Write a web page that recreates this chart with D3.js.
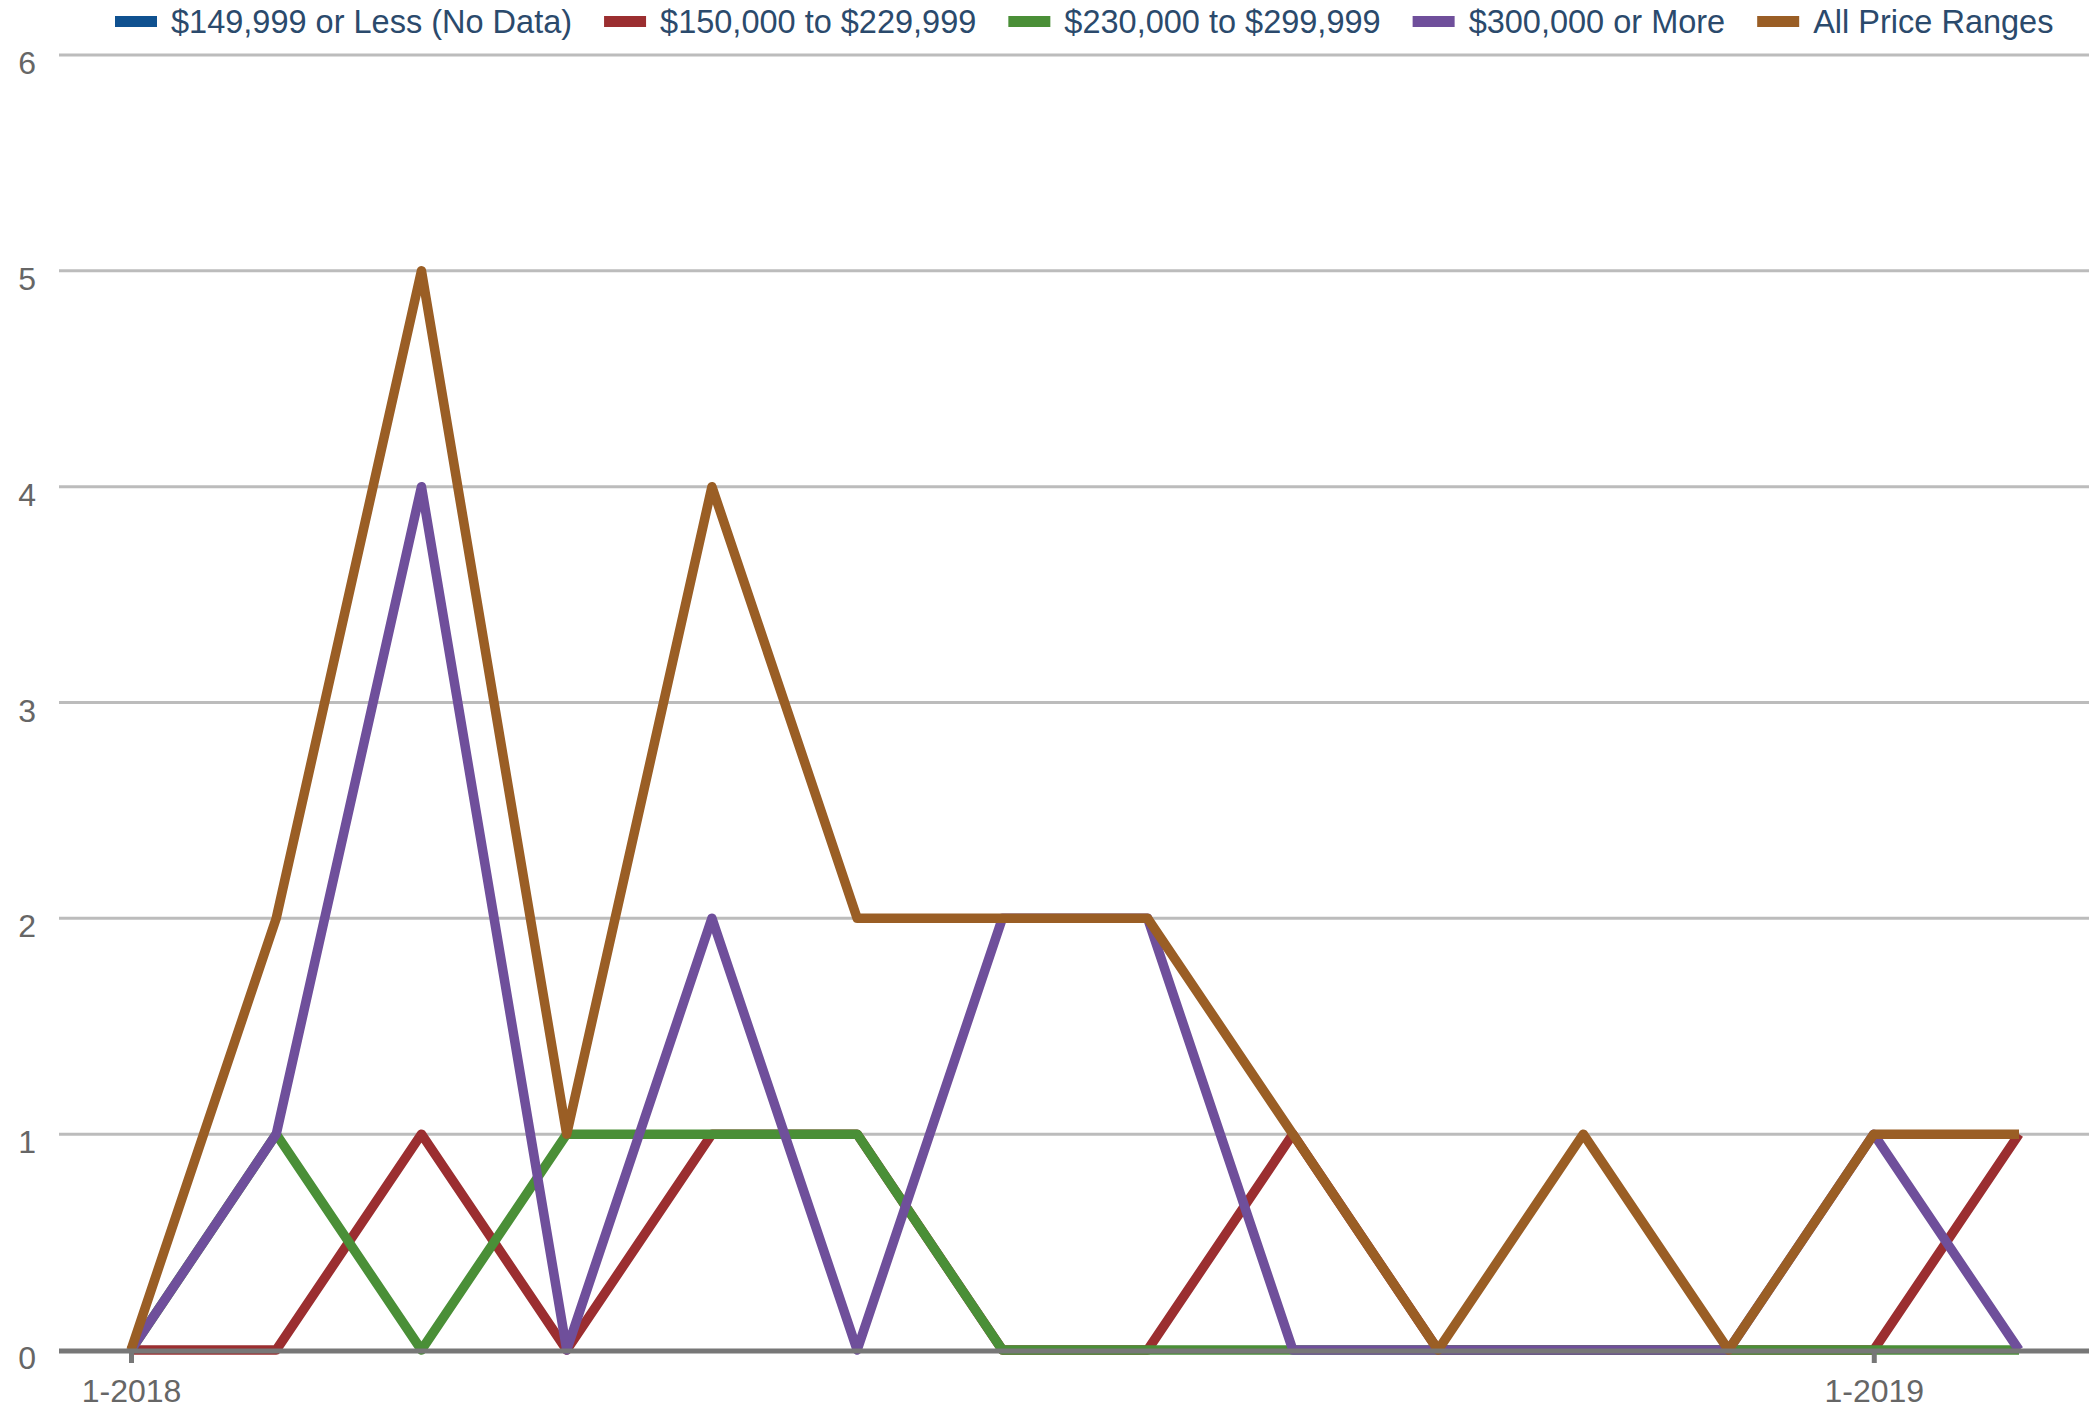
<!DOCTYPE html>
<html>
<head>
<meta charset="utf-8">
<script src="https://cdn.jsdelivr.net/npm/d3@7"></script>
<style>
  body { margin: 0; background: #fff; }
  text { font-family: "Liberation Sans", Arial, sans-serif; }
</style>
</head>
<body>
<div id="graf"></div>
<script>
//// DATOS
meses = ['1-2018','2-2018','3-2018','4-2018','5-2018','6-2018','7-2018','8-2018','9-2018','10-2018','11-2018','12-2018','1-2019','2-2019']
series = ['$149,999 or Less (No Data)', '$150,000 to $229,999', '$230,000 to $299,999', '$300,000 or More', 'All Price Ranges']
colores = ['#0f5190', '#9b2e30', '#4a8f37', '#6f4f9b', '#9a5e25']
menos149 = []
de150a229 = [0, 0, 1, 0, 1, 1, 0, 0, 1, 0, 0, 0, 0, 1]
de230a299 = [0, 1, 0, 1, 1, 1, 0, 0, 0, 0, 0, 0, 0, 0]
mas300    = [0, 1, 4, 0, 2, 0, 2, 2, 0, 0, 0, 0, 1, 0]
todos     = [0, 2, 5, 1, 4, 2, 2, 2, 1, 0, 1, 0, 1, 1]
valores = [menos149, de150a229, de230a299, mas300, todos]
yTicks = [0, 1, 2, 3, 4, 5, 6]
xTicks = [0, 12]

//// TAMAÑOS
ancho_total = 2089
alto_total = 1408
margins = { top: 55, left: 59, right: 0, bottom: 58 }

svg = d3.select('#graf').append('svg')
  .attr('width', ancho_total)
  .attr('height', alto_total)

//// ESCALAS
x = d3.scaleLinear().domain([0, meses.length - 1]).range([131, 2019])
y = d3.scaleLinear().domain([0, 6]).range([alto_total - margins.bottom, margins.top])

//// REJILLA
svg.append('g')
  .selectAll('line')
  .data(yTicks.filter(d => d > 0))
  .join('line')
  .attr('x1', margins.left)
  .attr('x2', ancho_total - margins.right)
  .attr('y1', d => y(d))
  .attr('y2', d => y(d))
  .attr('stroke', '#bcbcbc')
  .attr('stroke-width', 3)

//// ETIQUETAS EJE Y
svg.append('g')
  .selectAll('text')
  .data(yTicks)
  .join('text')
  .attr('x', 36)
  .attr('y', d => y(d) + 19)
  .attr('text-anchor', 'end')
  .attr('font-size', 32)
  .attr('fill', '#666')
  .text(d => d)

//// LINEAS
linea = d3.line()
  .x((d, i) => x(i))
  .y(d => y(d))

svg.append('g')
  .selectAll('path')
  .data(valores.filter(v => v.length))
  .join('path')
  .attr('fill', 'none')
  .attr('stroke', d => colores[valores.indexOf(d)])
  .attr('stroke-width', 9.5)
  .attr('stroke-linejoin', 'round')
  .attr('d', d => linea(d))

//// EJE X
xAxis = svg.append('g')
  .attr('transform', `translate(0,${y(0)})`)
  .call(d3.axisBottom(x).tickValues(xTicks).tickFormat(i => meses[i]).tickSize(13).tickPadding(16))
xAxis.select('.domain').remove()
xAxis.selectAll('.tick line').attr('stroke', '#777').attr('stroke-width', 5)
xAxis.selectAll('.tick text')
  .attr('font-size', 32)
  .attr('font-family', '"Liberation Sans", Arial, sans-serif')
  .attr('fill', '#666')

svg.append('line')
  .attr('x1', margins.left)
  .attr('x2', ancho_total - margins.right)
  .attr('y1', y(0) + 1)
  .attr('y2', y(0) + 1)
  .attr('stroke', '#777')
  .attr('stroke-width', 5)

//// LEYENDA
leyenda = svg.append('g')
posX = 115
series.forEach((s, i) => {
  leyenda.append('rect')
    .attr('x', posX)
    .attr('y', 16)
    .attr('width', 42)
    .attr('height', 11)
    .attr('fill', colores[i])
  t = leyenda.append('text')
    .attr('x', posX + 56)
    .attr('y', 33)
    .attr('font-size', 32.5)
    .attr('fill', '#2b4a6c')
    .text(s)
  posX = posX + 56 + t.node().getComputedTextLength() + 32
})
</script>
</body>
</html>
